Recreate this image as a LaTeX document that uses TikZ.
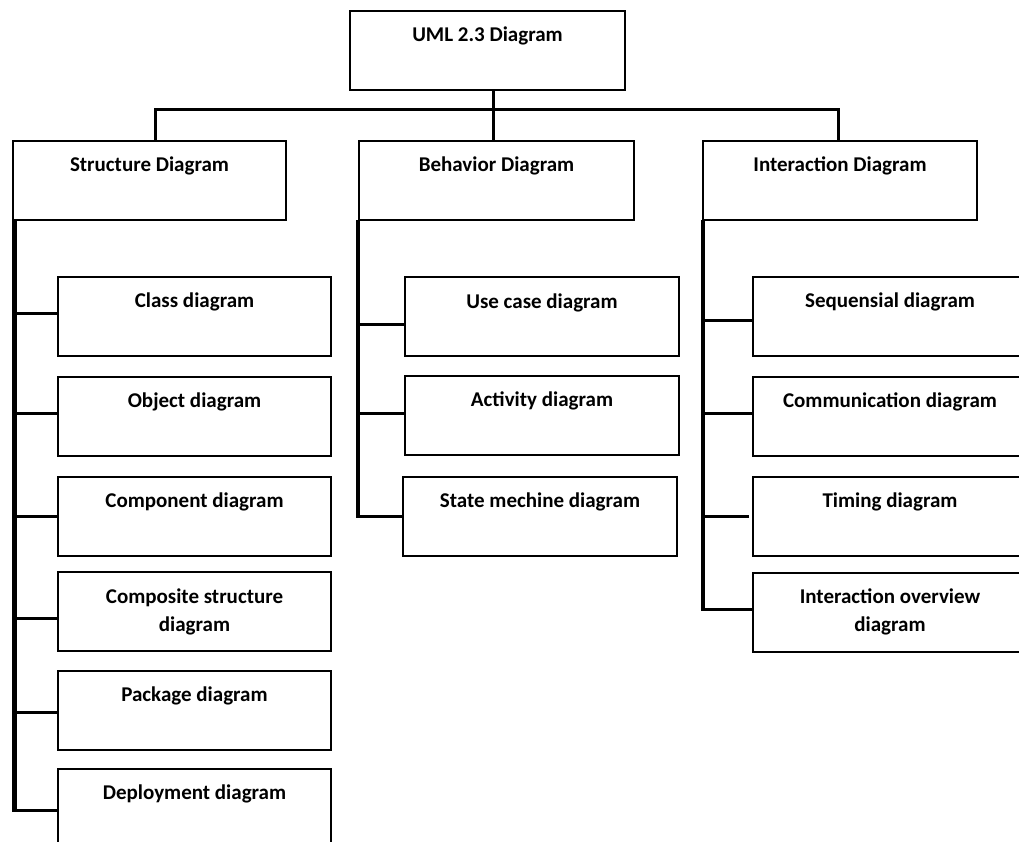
\documentclass[tikz,border=0pt]{standalone}
\usepackage{fontspec}
\setmainfont{Carlito}
\begin{document}
\begin{tikzpicture}[x=1pt, y=-1pt,
  box/.style={draw, line width=2pt, minimum width=274pt, minimum height=79pt,
    inner sep=0pt, outer sep=0pt},
  txt/.style={anchor=base, yshift=-31pt, align=center, inner sep=0pt,
    font=\bfseries\fontsize{21}{28}\selectfont},
  txttwo/.style={txt, yshift=-28pt},
  conn/.style={line width=3pt},
  spine/.style={line width=4.5pt}]
\useasboundingbox (0,0) rectangle (1019,842);
\clip (0,0) rectangle (1019,842);

% root and the three families
\node[box, minimum width=275pt, label={[txt]north:UML 2.3 Diagram}] (root) at (487.5,50.5) {};
\node[box, minimum width=273pt, label={[txt]north:Structure Diagram}] (struct) at (149.5,180.5) {};
\node[box, minimum width=275pt, label={[txt]north:Behavior Diagram}] (behav) at (496.5,180.5) {};
\node[box, label={[txt]north:Interaction Diagram}] (inter) at (840,180.5) {};

% structure diagrams
\node[box, minimum width=273pt, label={[txt]north:Class diagram}] (cls) at (194.5,316) {};
\node[box, minimum width=273pt, label={[txt]north:Object diagram}] (obj) at (194.5,416) {};
\node[box, minimum width=273pt, label={[txt]north:Component diagram}] (comp) at (194.5,516) {};
\node[box, minimum width=273pt, label={[txttwo]north:Composite structure\\diagram}] (csd) at (194.5,611.5) {};
\node[box, minimum width=273pt, label={[txt]north:Package diagram}] (pkg) at (194.5,710) {};
\node[box, minimum width=273pt, label={[txt]north:Deployment diagram}] (dep) at (194.5,808) {};

% behavior diagrams
\node[box, label={[txt]north:Use case diagram}] (uc) at (542,316.5) {};
\node[box, label={[txt]north:Activity diagram}] (act) at (542,415) {};
\node[box, label={[txt]north:State mechine diagram}] (sm) at (540,516) {};

% interaction diagrams
\node[box, label={[txt]north:Sequensial diagram}] (seq) at (890,316) {};
\node[box, label={[txt]north:Communication diagram}] (com) at (890,416) {};
\node[box, label={[txt]north:Timing diagram}] (tim) at (890,516) {};
\node[box, label={[txttwo]north:Interaction overview\\diagram}] (iod) at (890,612) {};

% top-level tree
\coordinate (bar) at (493,110);
\draw[conn] ([xshift=5.5pt]root.south) -- ([xshift=-3.5pt]behav.north);
\draw[conn] ([xshift=5.5pt]struct.north) |- (bar) -| ([xshift=-2pt]inter.north);

% structure spine and branches
\coordinate (sEnd) at (14.5,811.5);
\draw[spine] ([xshift=1.5pt]struct.south west) -- (sEnd);
\foreach \n/\dy in {cls/3, obj/3, comp/0, csd/-6.5, pkg/-2, dep/-2}
  \draw[conn] ([yshift=\dy pt]\n.west) -- ([yshift=\dy pt]\n.west -| sEnd);

% behavior spine and branches
\coordinate (bEnd) at (358,517.5);
\draw[spine] ([xshift=-1pt]behav.south west) -- (bEnd);
\foreach \n/\dy in {uc/-7.5, act/2, sm/0}
  \draw[conn] ([yshift=\dy pt]\n.west) -- ([yshift=\dy pt]\n.west -| bEnd);

% interaction spine and branches
\coordinate (iEnd) at (703,610.5);
\draw[spine] (inter.south west) -- (iEnd);
\foreach \n/\dy in {seq/-4, com/3, iod/3}
  \draw[conn] ([yshift=\dy pt]\n.west) -- ([yshift=\dy pt]\n.west -| iEnd);
\draw[conn] ([xshift=-4pt]tim.west) -- (tim.west -| iEnd);
\end{tikzpicture}
\end{document}
